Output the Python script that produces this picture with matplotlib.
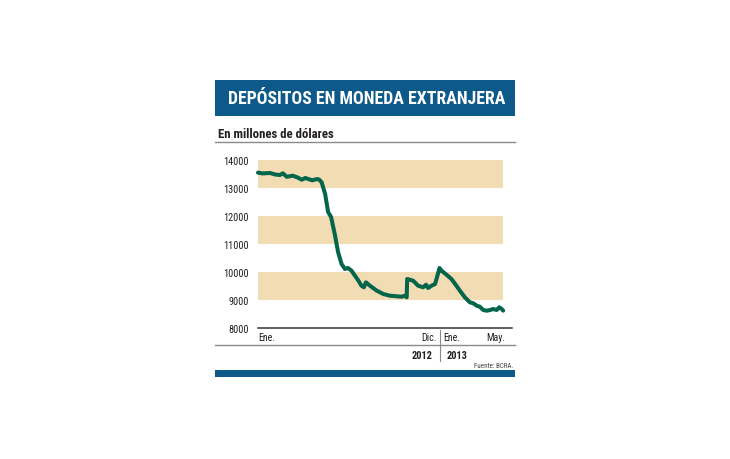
import matplotlib
matplotlib.use("Agg")
import matplotlib.pyplot as plt
from matplotlib import font_manager
from matplotlib.patches import Rectangle
from matplotlib.lines import Line2D
import pandas as pd

# ---------------- data ----------------
title = "DEPÓSITOS EN MONEDA EXTRANJERA"
subtitle = "En millones de dólares"
source = "Fuente: BCRA."
dates = [
    "2012-01-01", "2012-01-10", "2012-01-25", "2012-02-05", "2012-02-14", "2012-02-20",
    "2012-02-28", "2012-03-11", "2012-03-20", "2012-03-29", "2012-04-05", "2012-04-19",
    "2012-04-29", "2012-05-03", "2012-05-08", "2012-05-15", "2012-05-21", "2012-05-27",
    "2012-06-04", "2012-06-10", "2012-06-17", "2012-06-24", "2012-06-30", "2012-07-07",
    "2012-07-14", "2012-07-21", "2012-07-27", "2012-08-01", "2012-08-05", "2012-08-13",
    "2012-08-27", "2012-09-09", "2012-09-22", "2012-10-06", "2012-10-16", "2012-10-23",
    "2012-10-26", "2012-10-27", "2012-11-08", "2012-11-18", "2012-11-28", "2012-12-04",
    "2012-12-08", "2012-12-15", "2012-12-22", "2012-12-25", "2012-12-31", "2013-01-04",
    "2013-01-14", "2013-01-24", "2013-02-03", "2013-02-10", "2013-02-20", "2013-03-02",
    "2013-03-09", "2013-03-16", "2013-03-22", "2013-03-29", "2013-04-05", "2013-04-12",
    "2013-04-18", "2013-04-25", "2013-04-30", "2013-05-05", "2013-05-08",
]
deposits = [
    13550, 13520, 13536, 13480, 13464, 13525,
    13400, 13440, 13380, 13296, 13357, 13275,
    13321, 13300, 13204, 12786, 12143, 11964,
    11296, 10714, 10286, 10107, 10143, 10046,
    9868, 9689, 9511, 9454, 9632, 9511,
    9332, 9214, 9154, 9132, 9118, 9154,
    9096, 9750, 9689, 9511, 9454, 9546,
    9429, 9511, 9571, 9750, 10143, 10046,
    9904, 9750, 9511, 9332, 9096, 8918,
    8882, 8796, 8761, 8643, 8618, 8643,
    8679, 8643, 8739, 8679, 8620,
]
yticks = [8000, 9000, 10000, 11000, 12000, 13000, 14000]
bands = [(9000, 10000), (11000, 12000), (13000, 14000)]
month_labels = ["Ene.", "Dic.", "Ene.", "May."]
year_labels = ["2012", "2013"]

# ---------------- style ----------------
BLUE = "#0d5a8a"
BAND = "#f2dcb4"
GREEN = "#03654a"
GRAY = "#8a8a8a"
TXT = "#231f20"


def pick_font():
    for fam in ["Liberation Sans Narrow", "Roboto Condensed", "Open Sans Condensed",
                "DejaVu Sans"]:
        try:
            font_manager.findfont(font_manager.FontProperties(family=fam),
                                  fallback_to_default=False)
            return fam
        except Exception:
            continue
    return "DejaVu Sans"


FAM = pick_font()
plt.rcParams["font.family"] = [FAM, "DejaVu Sans"]

t0 = pd.Timestamp(dates[0])
days = [(pd.Timestamp(d) - t0).days for d in dates]
year_break = (pd.Timestamp("2013-01-01") - t0).days

W, H = 730, 460
fig = plt.figure(figsize=(W / 100, H / 100), dpi=100)
fig.patch.set_facecolor("white")

# overlay in pixel coordinates for decorations
ov = fig.add_axes([0, 0, 1, 1], zorder=0)
ov.set_xlim(0, W)
ov.set_ylim(H, 0)
ov.axis("off")

# title bar
ov.add_patch(Rectangle((215, 81), 300, 36, color=BLUE, lw=0))
ttl = ov.text(228, 99.5, title, color="white", fontsize=13, fontweight="bold",
              ha="left", va="center")
# subtitle
sub = ov.text(218, 135, subtitle, color=TXT, fontsize=8, fontweight="bold",
              ha="left", va="center")
ov.add_line(Line2D([215, 515], [142.7, 142.7], color=GRAY, lw=1.0))
# lower separator lines
ov.add_line(Line2D([215, 515], [346, 346], color=GRAY, lw=1.0))
ov.add_line(Line2D([440, 440], [331, 362], color=GRAY, lw=0.8))
# bottom bar
ov.add_patch(Rectangle((215, 371), 300, 7, color=BLUE, lw=0))
ov.text(513, 366.5, source, color="#444444", fontsize=5, ha="right", va="center")

# main axes
ax_left, ax_right = 258, 512
ax_top, ax_bottom = 161, 329
ax = fig.add_axes([ax_left / W, 1 - ax_bottom / H, (ax_right - ax_left) / W,
                   (ax_bottom - ax_top) / H], zorder=1)
ax.patch.set_alpha(0)
px_per_day = (440 - ax_left) / year_break
ax.set_xlim(0, (ax_right - ax_left) / px_per_day)
ax.set_ylim(yticks[0], yticks[-1])

for lo, hi in bands:
    ax.fill_between([days[0], days[-1]], lo, hi, color=BAND, lw=0, zorder=1)

ax.plot(days, deposits, color=GREEN, lw=2.9, solid_joinstyle="round",
        solid_capstyle="round", zorder=3, clip_on=False)

ax.set_yticks(yticks)
ax.set_yticklabels([str(v) for v in yticks])
ax.tick_params(axis="y", length=0, pad=6.5, labelsize=7.4, labelcolor=TXT)
ax.set_xticks([])
for s in ["top", "right", "left"]:
    ax.spines[s].set_visible(False)
ax.spines["bottom"].set_color("#333333")
ax.spines["bottom"].set_linewidth(1.1)

# month labels
def lab(x, txt, ha, dx_px, dy_px, **kw):
    ax.annotate(txt, xy=(x, yticks[0]), xytext=(dx_px * 0.72, dy_px * 0.72),
                textcoords="offset points", ha=ha, va="center",
                annotation_clip=False, color=TXT, **kw)

lab(days[0], month_labels[0], "left", 0, -9, fontsize=7.2)
lab(year_break, month_labels[1], "right", -3, -9, fontsize=7.2)
lab(year_break, month_labels[2], "left", 3, -9, fontsize=7.2)
lab(days[-1], month_labels[3], "right", 2, -9, fontsize=7.2)
lab(year_break, year_labels[0], "right", -7, -27, fontsize=7.5, fontweight="bold")
lab(year_break, year_labels[1], "left", 7, -27, fontsize=7.5, fontweight="bold")

# fit title and subtitle widths to reference (~277 px, ~115 px)
fig.canvas.draw()
bb = ttl.get_window_extent()
ttl.set_fontsize(13 * 277 / bb.width)
bb = sub.get_window_extent()
sub.set_fontsize(8 * 115 / bb.width)

fig.savefig("out.png", dpi=100, facecolor="white")
